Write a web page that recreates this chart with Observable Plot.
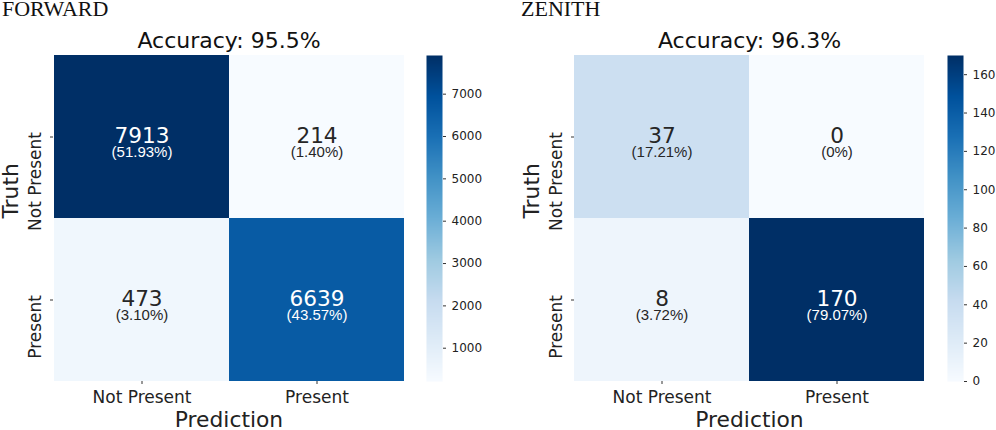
<!DOCTYPE html>
<html lang="en">
<head>
<meta charset="UTF-8">
<title>Confusion matrices</title>
<script src="https://cdn.jsdelivr.net/npm/d3@7"></script>
<script src="https://cdn.jsdelivr.net/npm/@observablehq/plot@0.6"></script>
<style>
  body { margin: 0; background: #fff; }
  #chart { position: relative; width: 996px; height: 430px; overflow: hidden; }
  #chart svg { position: absolute; top: 0; }
  .panel-name { position: absolute; top: -2px; font: 22px/1 "Liberation Serif", serif; color: #111; }
</style>
</head>
<body>
<div id="chart"></div>
<script>
const labels = ["Not Present", "Present"];

const forwardCounts = [7913, 214, 473, 6639];
const forwardPercents = ["(51.93%)", "(1.40%)", "(3.10%)", "(43.57%)"];
const forwardTicks = [1000, 2000, 3000, 4000, 5000, 6000, 7000];

const zenithCounts = [37, 0, 8, 170];
const zenithPercents = ["(17.21%)", "(0%)", "(3.72%)", "(79.07%)"];
const zenithTicks = [0, 20, 40, 60, 80, 100, 120, 140, 160];

// matplotlib's Blues, top two stops nudged to the picture
const blues = ["#f7fbff", "#deebf7", "#c6dbef", "#9ecae1", "#6baed6", "#4292c6", "#1a70b5", "#00519c", "#002f66"];
const blueRamp = d3.piecewise(d3.interpolateRgb, blues);

const chart = document.querySelector("#chart");

function heatmap(left, marginLeft, marginRight, title, counts, percents) {
  const cells = counts.map((count, i) => ({
    truth: labels[i >> 1],
    pred: labels[i & 1],
    count,
    percent: percents[i]
  }));
  const domain = d3.extent(counts);
  const mid = (domain[0] + domain[1]) / 2;
  const textFill = d => d.count > mid ? "#fff" : "#262626";

  const plot = Plot.plot({
    width: 498,
    height: 430,
    marginLeft,
    marginRight,
    marginTop: 55,
    marginBottom: 49,
    style: { fontFamily: "DejaVu Sans", background: "transparent", overflow: "visible" },
    x: { domain: labels, padding: 0, label: null },
    y: { domain: labels, padding: 0, label: null },
    color: { type: "linear", domain, interpolate: blueRamp },
    marks: [
      Plot.cell(cells, { x: "pred", y: "truth", fill: "count" }),
      Plot.text(cells, { x: "pred", y: "truth", text: d => String(d.count), fill: textFill, fontSize: 21.6, dy: -1 }),
      Plot.text(cells, { x: "pred", y: "truth", text: "percent", fill: textFill, fontSize: 15, dy: 15.5, fontFamily: "Liberation Sans" }),
      Plot.axisX({ anchor: "bottom", label: null, fontSize: 17, tickSize: 3, tickPadding: 6, stroke: "#333", color: "#222" }),
      // the rotated labels hang below their ticks in the original
      Plot.axisY({ anchor: "left", label: null, tickSize: 3, tickFormat: () => "", stroke: "#333" }),
      Plot.text(labels, { y: d => d, frameAnchor: "left", dx: -18, dy: -5, rotate: -90, textAnchor: "end", fontSize: 17, fill: "#222" }),
      Plot.text([title], { frameAnchor: "top", dy: -23, fontSize: 22, fill: "#111" }),
      Plot.text(["Prediction"], { frameAnchor: "bottom", dy: 45, fontSize: 21.8, fill: "#222" }),
      Plot.text(["Truth"], { frameAnchor: "left", dx: -42, rotate: -90, fontSize: 21.8, fill: "#222" })
    ]
  });
  plot.style.left = left + "px";
  chart.append(plot);
}

function colorbar(left, counts, ticks) {
  const domain = d3.extent(counts);
  const plot = Plot.plot({
    width: 70,
    height: 430,
    marginLeft: 0,
    marginRight: 54,
    marginTop: 55,
    marginBottom: 49,
    style: { fontFamily: "DejaVu Sans", background: "transparent", overflow: "visible" },
    x: { domain: [0, 1], axis: null },
    y: { domain, label: null },
    color: { type: "linear", domain, interpolate: blueRamp },
    marks: [
      Plot.raster({ x1: 0, x2: 1, y1: domain[0], y2: domain[1], width: 1, height: 326, fill: (x, y) => y, imageRendering: "auto" }),
      Plot.axisY({ anchor: "right", ticks, tickFormat: "d", label: null, fontSize: 12, tickSize: 3, tickPadding: 6, stroke: "#333", color: "#222" })
    ]
  });
  plot.style.left = left + "px";
  chart.append(plot);
}

function panelName(left, text) {
  const div = document.createElement("div");
  div.className = "panel-name";
  div.style.left = left + "px";
  div.textContent = text;
  chart.append(div);
}

heatmap(0, 53, 94, "Accuracy: 95.5%", forwardCounts, forwardPercents);
colorbar(426, forwardCounts, forwardTicks);
panelName(2, "FORWARD");

heatmap(498, 76, 72, "Accuracy: 96.3%", zenithCounts, zenithPercents);
colorbar(947, zenithCounts, zenithTicks);
panelName(521, "ZENITH");
</script>
</body>
</html>
